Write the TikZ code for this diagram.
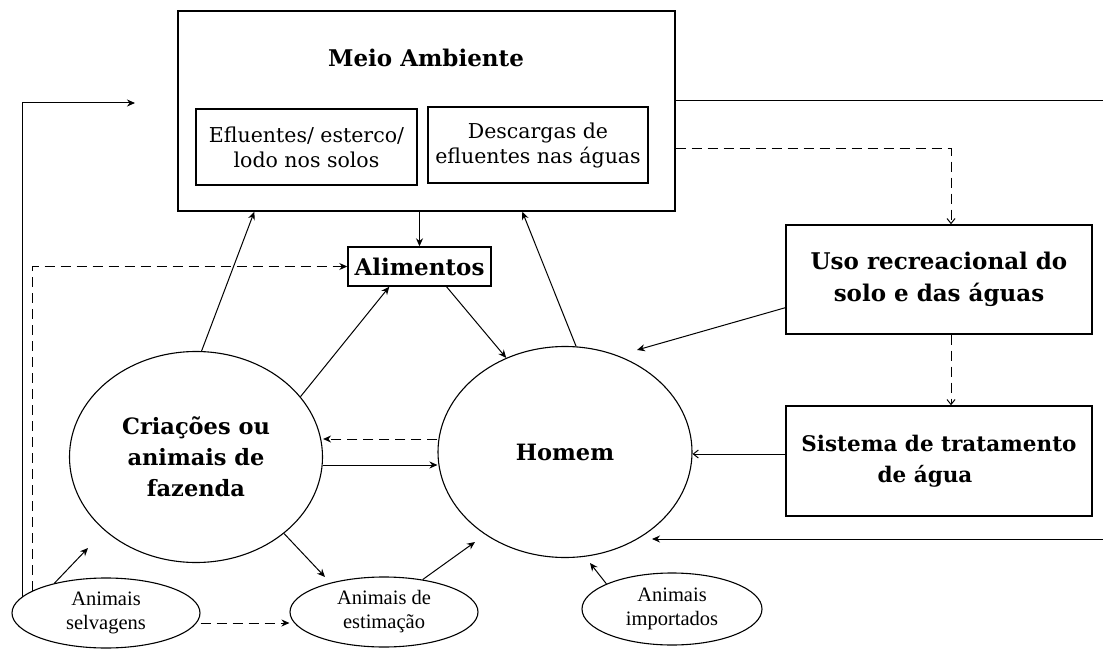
\documentclass[tikz,border=0pt]{standalone}
\usepackage{fontspec}
\setmainfont{DejaVu Serif}
\newfontfamily\smallfont{Liberation Serif}
\usetikzlibrary{arrows.meta,shapes.geometric,calc}
\begin{document}
\begin{tikzpicture}[x=1pt,y=-1pt,
  box/.style={draw,line width=1.4pt,inner sep=0pt,align=center},
  ell/.style={draw,ellipse,line width=1.1pt,inner sep=0pt,align=center},
  conn/.style={line width=1pt},
  dsh/.style={conn,dash pattern=on 10pt off 6pt},
  tip/.style={-{Stealth[length=8pt,width=7pt]}},
  barb/.style={-{Straight Barb[length=5pt,width=8pt]}},
  bigb/.style={font=\fontsize{22.5}{31}\selectfont\bfseries},
  inner/.style={font=\fontsize{20.5}{25}\selectfont},
  small/.style={font=\smallfont\fontsize{20.5}{24}\selectfont},
]
\useasboundingbox (0,0) rectangle (1103,650);
\fill[white] (0,0) rectangle (1103,650);

% Meio Ambiente
\node[box,minimum width=497pt,minimum height=200pt] (meio) at (426.5,111) {};
\node[font=\fontsize{23}{28}\selectfont\bfseries] (mtitle) at (426,58) {Meio Ambiente};
\node[box,inner,minimum width=221pt,minimum height=76pt] (efl) at (306.5,147) {Efluentes/ esterco/\\lodo nos solos};
\node[box,inner,minimum width=220pt,minimum height=76pt] (desc) at (538,145) {Descargas de\\efluentes nas águas};

% Alimentos
\node[box,font=\fontsize{23}{25}\selectfont\bfseries,minimum width=143pt,minimum height=39pt] (ali) at (419.5,266.5) {Alimentos};

% right boxes
\node[box,font=\fontsize{23}{32}\selectfont\bfseries,minimum width=306pt,minimum height=109pt] (uso) at (939,279.5) {Uso recreacional do\\solo e das águas};
\node[box,font=\fontsize{21.5}{31}\selectfont\bfseries,minimum width=306pt,minimum height=110pt] (sis) at (939,461) {Sistema de tratamento\\de água\hspace*{28pt}};

% ellipses
\node[ell,bigb,minimum width=253pt,minimum height=211pt] (cria) at (196,457) {Criações ou\\animais de\\fazenda};
\node[ell,bigb,minimum width=254pt,minimum height=211pt] (homem) at (565,452) {Homem};
\node[ell,small,minimum width=188pt,minimum height=70pt] (selv) at (106,613) {Animais\\selvagens};
\node[ell,small,minimum width=188pt,minimum height=70pt] (estim) at (384,612) {Animais de\\estimação};
\node[ell,small,minimum width=180pt,minimum height=72pt] (imp) at (672,609) {Animais\\importados};

% free ends
\coordinate (cMeioIn) at (135,103);
\coordinate (cRight) at (1110,101);
\coordinate (cHomR) at (652,539);
\coordinate (cSelvUp) at (88,548);
\coordinate (cEstIn) at (325,577);
\coordinate (cEstUp) at (475,542);
\coordinate (cImpUp) at (590,563);
\coordinate (cUsoHom) at (637,350);
\coordinate (yA) at (0,439);
\coordinate (yB) at (0,465);
\coordinate (yC) at (0,623);
\coordinate (yD) at (0,149);
\coordinate (yE) at (0,454);

% connectors
\draw[conn,tip] (meio.south -| ali.north) -- (ali.north);
\draw[conn,tip] (selv.169) |- (cMeioIn);
\draw[dsh,tip] (selv.163) |- (ali.west);
\draw[conn,tip] (cria.87) -- ($(meio.south west)+(77,0)$);
\draw[conn,tip] (cria.30) -- ($(ali.south west)+(42,0)$);
\draw[conn,tip] ($(ali.south)+(27,0)$) -- (homem.122);
\draw[conn,tip] (homem.84) -- ($(meio.south west)+(345,0)$);
\draw[dsh,tip] (homem.west |- yA) -- (cria.east |- yA);
\draw[conn,tip] (cria.east |- yB) -- (homem.west |- yB);
\draw[conn,tip] (cria.-41) -- (cEstIn);
\draw[conn,tip] (selv.150) -- (cSelvUp);
\draw[dsh,tip] (selv.east |- yC) -- (estim.west |- yC);
\draw[conn,tip] (estim.40) -- (cEstUp);
\draw[conn,tip] (imp.159) -- (cImpUp);
\draw[conn,tip] (meio.east |- cRight) -- (cRight) |- (cHomR);
\draw[dsh,barb] (meio.east |- yD) -| ($(uso.north)+(12,0)$);
\draw[dsh,barb] ($(uso.south)+(12,0)$) -- ($(sis.north)+(12,0)$);
\draw[conn,tip] ($(uso.south west)+(0,-27)$) -- (cUsoHom);
\draw[conn,barb] (sis.west |- yE) -- (homem.east |- yE);
\end{tikzpicture}
\end{document}
